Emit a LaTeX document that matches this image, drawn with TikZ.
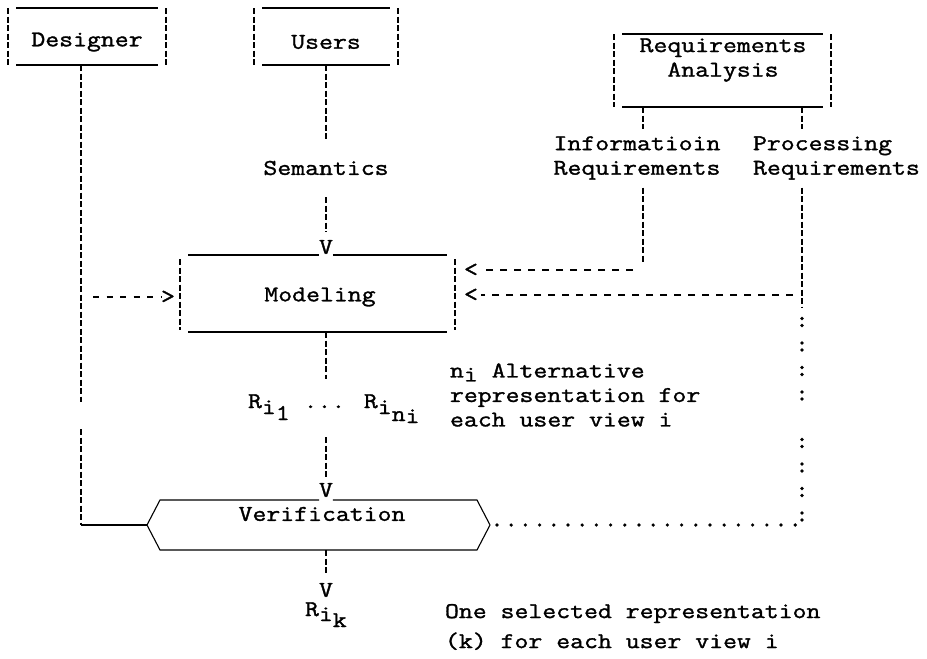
\documentclass[tikz,border=0pt]{standalone}
\usepackage{fontspec}
\newfontfamily\tw{Latin Modern Mono}[FakeStretch=1.2,FakeBold=1.4]
\newcommand\tbox[1]{%
  \draw[vb] (#1.north west) -- (#1.south west);
  \draw[vb] (#1.north east) -- (#1.south east);
  \draw[hb] ([xshift=8pt]#1.north west) -- ([xshift=-8pt]#1.north east);
  \draw[hb] ([xshift=8pt]#1.south west) -- ([xshift=-8pt]#1.south east);}
\newcommand\tboxgap[2]{%
  \draw[vb] ([yshift=-4pt]#1.north west) -- ([yshift=2pt]#1.south west);
  \draw[vb] ([yshift=-4pt]#1.north east) -- ([yshift=2pt]#1.south east);
  \draw[hb] ([xshift=8pt]#1.north west) -- (#1.north west -| #2.west);
  \draw[hb] (#1.north east -| #2.east) -- ([xshift=-8pt]#1.north east);
  \draw[hb] ([xshift=8pt]#1.south west) -- ([xshift=-8pt]#1.south east);}
\newcommand\lo[2]{\raisebox{-#1pt}{#2}}
\begin{document}
\begin{tikzpicture}[x=1pt,y=-1pt,
  every node/.style={font=\tw\fontsize{22.5}{24.5}\selectfont, inner sep=0pt, outer sep=0pt},
  vb/.style={line width=1.1pt, dash pattern=on 6pt off 2.5pt},
  hb/.style={line width=1.1pt},
  hy/.style={line width=1.3pt, dash pattern=on 7pt off 7pt},
  dotl/.style={line width=3.6pt, line cap=round, dash pattern=on 0pt off 14.2pt},
  coll/.style={line width=3.6pt, line cap=round, dash pattern=on 0pt off 7pt on 0pt off 17.5pt}]
\useasboundingbox (0,0) rectangle (927,659);
\fill[white] (0,0) rectangle (927,659);

% top boxes
\node[minimum width=158pt,minimum height=57pt] (des) at (87,36.5) {};
\node (dest) at (87,42) {Designer};
\node[minimum width=144pt,minimum height=57pt] (usr) at (326,36.5) {};
\node (usrt) at (326,42) {Users};
\node[minimum width=217pt,minimum height=73pt] (req) at (722.5,70.5) {};
\node[align=center] (reqt) at (723,60) {Requirements\\Analysis};
\tbox{des}\tbox{usr}\tbox{req}

% requirement texts
\node[align=center] (inf) at (637,158) {Informatioin\\Requirements};
\node[anchor=west,align=left] (pro) at (753,158) {Processing\\Requirements};
\coordinate (ix) at (643,0);
\coordinate (px) at (802,0);

% users column
\node (sem) at (326,168) {Semantics};
\node (v1) at (326,247) {V};
\node[minimum width=275pt,minimum height=77pt] (mod) at (317.5,293.5) {};
\node (modt) at (320,297) {Modeling};
\tboxgap{mod}{v1}

\draw[vb] (usr.south) -- ([yshift=21pt]sem.north);
\draw[vb] ([yshift=-22pt]sem.south) -- ([yshift=8pt]v1.north);

% representations
\node[anchor=base west] (rrow) at (248,408) {R\lo{6}{i}\lo{12}{1} ... R\lo{6}{i}\lo{13}{n}\lo{15}{i}};
\node[anchor=west,align=left] (nit) at (450,395) {n\lo{4}{i} Alternative\\representation for\\each user view i};
\node (v3) at (326,490) {V};
\draw[vb] (mod.south -| v1) -- ([yshift=15pt]rrow.north -| v1);
\draw[vb] ([yshift=-14pt]rrow.south -| v1) -- ([yshift=4pt]v3.north);

% verification
\node[minimum width=343pt,minimum height=50pt] (ver) at (318.5,525) {};
\node (vert) at (322,514) {Verification};
\draw[hb] (ver.west) -- ([xshift=13pt]ver.north west) -- (ver.north west -| v3.west);
\draw[hb] (ver.north west -| v3.east) -- ([xshift=-13pt]ver.north east) -- (ver.east)
  -- ([xshift=-13pt]ver.south east) -- ([xshift=13pt]ver.south west) -- (ver.west);

\node (v4) at (326,590) {V};
\node[anchor=base west] (rik) at (305,616) {R\lo{5}{i}\lo{11}{k}};
\node[anchor=west,align=left] (one) at (445,627) {One selected representation\\[5.5pt](k) for each user view i};
\draw[vb] (ver.south -| v4) -- ([yshift=8pt]v4.north);

% designer line
\coordinate (dl) at (81,0);
\coordinate (dg1) at (81,402);
\coordinate (dg2) at (81,429);
\coordinate (dh) at (81,525);
\draw[vb] (des.south -| dl) -- (dg1);
\draw[vb] (dg2) -- (dh);
\draw[hb] (dh) -- (ver.west);
\coordinate (da) at (93,297);
\node (ra) at (168,297) {>};
\draw[line width=1.3pt, dash pattern=on 6pt off 7.5pt] (da) -- (ra.west);

% information requirements
\draw[vb] (req.south -| ix) -- ([yshift=7pt]inf.north -| ix);
\coordinate (ic) at (643,263);
\coordinate (ih) at (633,270);
\draw[vb] ([yshift=-8pt]inf.south -| ix) -- (ic);
\node (la1) at (471,270) {<};
\draw[hy] (ih) -- ([xshift=3pt]la1.east);

% processing requirements
\draw[vb] (req.south -| px) -- ([yshift=7pt]pro.north -| px);
\coordinate (pc) at (802,307);
\coordinate (ph) at (793,295);
\draw[vb] ([yshift=-8pt]pro.south -| px) -- (pc);
\node (la2) at (471,295) {<};
\draw[hy] (ph) -- ([xshift=3pt]la2.east);

% dotted link
\coordinate (pc1) at (802,318.5);
\coordinate (pc2) at (802,400);
\coordinate (pc3) at (802,439.5);
\coordinate (pend) at (802,525);
\draw[coll] (pc1) -- (pc2);
\draw[coll] (pc3) -- (pend);
\draw[dotl] ([xshift=7pt]ver.east) -- (pend);
\end{tikzpicture}
\end{document}
